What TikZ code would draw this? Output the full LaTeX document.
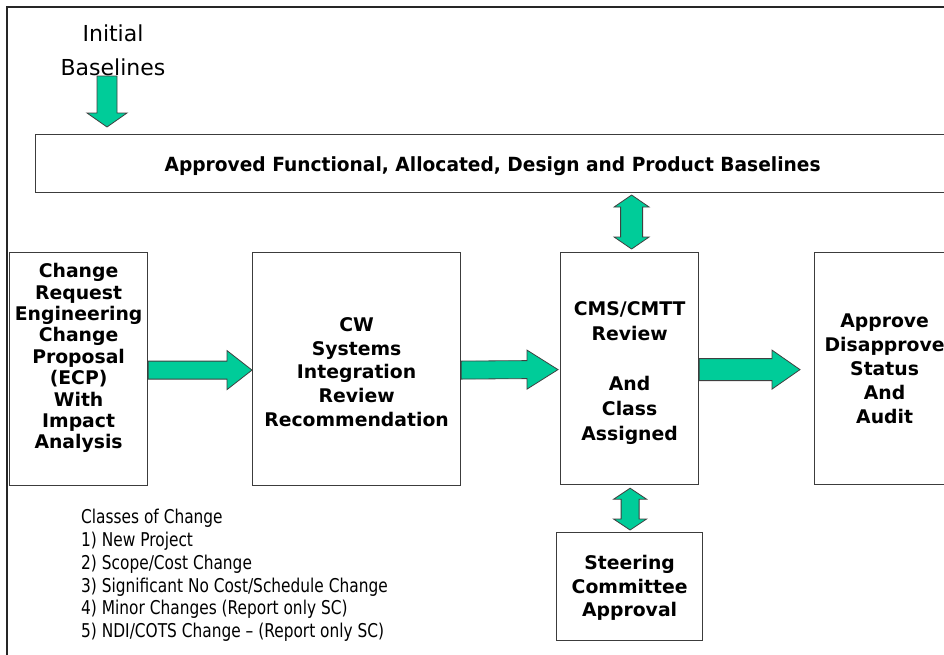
\documentclass[tikz,border=0pt]{standalone}
\usepackage{fontspec}
\setmainfont{DejaVu Sans}
\newfontfamily\condfont[FakeStretch=0.81]{DejaVu Sans}
\newfontfamily\basefont[FakeStretch=0.955]{DejaVu Sans}
\usetikzlibrary{calc}
\definecolor{arrgreen}{RGB}{0,204,153}
\definecolor{boxline}{RGB}{60,60,60}
\tikzset{
  blk/.style={draw=boxline, line width=1.2pt, fill=white, inner sep=0pt, anchor=north west},
  btxt/.style={align=center, inner sep=0pt, font=\bfseries\fontsize{18.8}{#1}\selectfont},
  blockarrow/.style={fill=arrgreen, draw=black!75, line width=0.8pt, line join=miter}
}
\begin{document}
\begin{tikzpicture}[x=1pt,y=-1pt]
\useasboundingbox (0,0) rectangle (944,654);
\clip (0,0) rectangle (944,654);
\fill[white] (0,0) rectangle (944,654);
% outer frame
\draw[line width=1.8pt, draw=black!85] (7,7) rectangle (990,700);

% boxes
\node[blk, minimum width=914pt, minimum height=58pt] (base) at (35,134) {};
\node[blk, minimum width=138pt, minimum height=233pt] (chg) at (9,252) {};
\node[blk, minimum width=208pt, minimum height=233pt] (cw) at (252,252) {};
\node[blk, minimum width=138pt, minimum height=232pt] (cms) at (560,252) {};
\node[blk, minimum width=140pt, minimum height=232pt] (appr) at (814,252) {};
\node[blk, minimum width=146pt, minimum height=108pt] (steer) at (556,532) {};

% texts
\node[align=center, inner sep=0pt, font=\fontsize{22}{34}\selectfont] (init) at (113,50) {Initial\\Baselines};
\node[inner sep=0pt, font=\basefont\bfseries\fontsize{19.5}{23}\selectfont] (basetxt) at ($(base.center)+(0,3)$) {Approved Functional, Allocated, Design and Product Baselines};
\node[btxt=21.4] (chgtxt) at ($(chg.center)+(0,-11)$) {Change\\Request\\Engineering\\Change\\Proposal\\(ECP)\\With\\Impact\\Analysis};
\node[btxt=23.7] (cwtxt) at ($(cw.center)+(0,3)$) {CW\\Systems\\Integration\\Review\\Recommendation};
\node[btxt=25] (cmstxt) at ($(cms.center)+(0,4)$) {CMS/CMTT\\Review\\[25pt]And\\Class\\Assigned};
\node[btxt=24] (apprtxt) at ($(appr.center)+(0,0)$) {Approve\\Disapprove\\Status\\And\\Audit};
\node[btxt=23.5] (steertxt) at ($(steer.center)+(0,1.5)$) {Steering\\Committee\\Approval};
\node[anchor=north west, align=left, inner sep=0pt, font=\condfont\fontsize{19}{22.8}\selectfont] (classes) at (81,509)
  {Classes of Change\\1) New Project\\2) Scope/Cost Change\\3) Significant No Cost/Schedule Change\\4) Minor Changes (Report only SC)\\5) NDI/COTS Change – (Report only SC)};

% down arrow: Initial Baselines -> baselines box
\coordinate (dt) at ($(base.north west)+(72,-7)$);
\draw[blockarrow] ($(dt)+(-10,-51)$) -- ($(dt)+(10,-51)$) -- ($(dt)+(10,-14)$) -- ($(dt)+(20,-14)$)
  -- (dt) -- ($(dt)+(-20,-14)$) -- ($(dt)+(-10,-14)$) -- cycle;

% horizontal arrows
\coordinate (a1s) at ($(chg.east)+(0,1)$);
\coordinate (a1t) at ($(cw.west)+(0,1)$);
\draw[blockarrow] ($(a1s)+(0,-9)$) -- ($(a1t)+(-25,-9)$) -- ($(a1t)+(-25,-19.5)$) -- (a1t)
  -- ($(a1t)+(-25,19.5)$) -- ($(a1t)+(-25,9)$) -- ($(a1s)+(0,9)$) -- cycle;

\coordinate (a2s) at ($(cw.east)+(0,1)$);
\coordinate (a2t) at ($(cms.west)+(-2,1)$);
\draw[blockarrow] ($(a2s)+(0,-9)$) -- ($(a2t)+(-31,-9)$) -- ($(a2t)+(-31,-19.5)$) -- (a2t)
  -- ($(a2t)+(-31,19.5)$) -- ($(a2t)+(-31,9)$) -- ($(a2s)+(0,9)$) -- cycle;

\coordinate (a3s) at ($(cms.east)+(0,1)$);
\coordinate (a3t) at ($(appr.west)+(-14,1)$);
\draw[blockarrow] ($(a3s)+(0,-11)$) -- ($(a3t)+(-28,-11)$) -- ($(a3t)+(-28,-19.5)$) -- (a3t)
  -- ($(a3t)+(-28,19.5)$) -- ($(a3t)+(-28,11)$) -- ($(a3s)+(0,11)$) -- cycle;

% double arrow baselines <-> CMS
\coordinate (u1) at ($(cms.north)+(2,-57)$);
\coordinate (u2) at ($(cms.north)+(2,-3)$);
\draw[blockarrow] (u1) -- ($(u1)+(17.5,12)$) -- ($(u1)+(11,12)$) -- ($(u2)+(11,-12)$) -- ($(u2)+(17.5,-12)$)
  -- (u2) -- ($(u2)+(-17.5,-12)$) -- ($(u2)+(-11,-12)$) -- ($(u1)+(-11,12)$) -- ($(u1)+(-17.5,12)$) -- cycle;

% double arrow CMS <-> steering
\coordinate (v1) at ($(cms.south)+(0.5,3)$);
\coordinate (v2) at ($(steer.north)+(0.5,-2)$);
\draw[blockarrow] (v1) -- ($(v1)+(16.5,11)$) -- ($(v1)+(9,11)$) -- ($(v2)+(9,-11)$) -- ($(v2)+(16.5,-11)$)
  -- (v2) -- ($(v2)+(-16.5,-11)$) -- ($(v2)+(-9,-11)$) -- ($(v1)+(-9,11)$) -- ($(v1)+(-16.5,11)$) -- cycle;
\end{tikzpicture}
\end{document}
